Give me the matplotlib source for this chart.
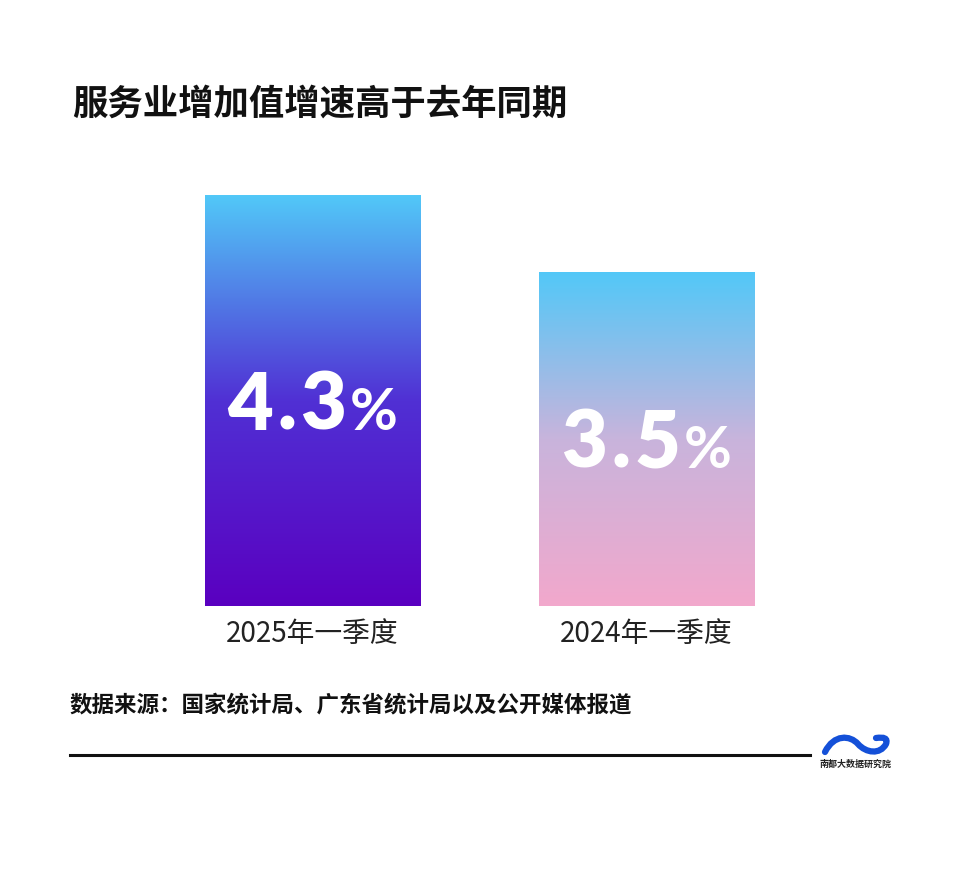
import numpy as np
import matplotlib
matplotlib.use("Agg")
import matplotlib.pyplot as plt
from matplotlib.colors import LinearSegmentedColormap
from matplotlib.path import Path
from matplotlib.patches import PathPatch

plt.rcParams['font.family'] = ['Noto Sans CJK SC', 'DejaVu Sans']

# 数据
categories = ['2025年一季度', '2024年一季度']
values = [4.3, 3.5]
title = '服务业增加值增速高于去年同期'
source = '数据来源：国家统计局、广东省统计局以及公开媒体报道'

grad_colors = [
    ['#5a00c0', '#5030d4', '#52c8f8'],   # 底 -> 顶
    ['#f2a8cc', '#c8b4dc', '#52c8f8'],
]

W, H = 960, 876
fig = plt.figure(figsize=(W / 100, H / 100), dpi=100)
fig.patch.set_facecolor('white')

# 坐标轴：底部 606px，每单位约 95.5px
ax_left, ax_right = 145.5, 813.5
ax_bottom = 606
unit = 95.5
ymax = 5
ax = fig.add_axes([ax_left / W, 1 - ax_bottom / H,
                   (ax_right - ax_left) / W, ymax * unit / H])
ax.set_xlim(-0.5, 1.5)
ax.set_ylim(0, ymax)
ax.axis('off')

x = np.arange(len(categories))
bars = ax.bar(x, values, width=0.644, color='none', edgecolor='none')

grad = np.linspace(0, 1, 256).reshape(-1, 1)
for b, cols in zip(bars, grad_colors):
    cmap = LinearSegmentedColormap.from_list('g', cols)
    x0, y0 = b.get_x(), b.get_y()
    w, h = b.get_width(), b.get_height()
    im = ax.imshow(grad, cmap=cmap, aspect='auto', origin='lower',
                   extent=[x0, x0 + w, y0, y0 + h], zorder=2)
    im.set_clip_path(b)

ax.set_xlim(-0.5, 1.5)
ax.set_ylim(0, ymax)

# 数值标签：逐字排版，字间略宽，% 较小
num_font = ['Lato', 'DejaVu Sans']
gap = 4
label_txts = []
for xi, v in zip(x, values):
    pieces = []
    for ch in f'{v:.1f}':
        pieces.append(ax.text(0, 0, ch, color='white', fontsize=57,
                              fontweight='heavy', ha='left', va='baseline',
                              family=num_font, zorder=3))
    pieces.append(ax.text(0, 0, '%', color='white', fontsize=42,
                          fontweight='bold', ha='left', va='baseline',
                          family=num_font, zorder=3))
    label_txts.append(pieces)

fig.canvas.draw()
r = fig.canvas.get_renderer()
inv = ax.transData.inverted()
for pieces, xi, v in zip(label_txts, x, values):
    widths = [p.get_window_extent(r).width for p in pieces]
    total = sum(widths) + gap * (len(pieces) - 1)
    cx, cy = ax.transData.transform((xi, v / 2))
    base = cy - 29   # 数字高约 58px，居中
    left = cx - total / 2
    for p, wd in zip(pieces, widths):
        p.set_position(inv.transform((left, base)))
        left += wd + gap

# 类别标签
for xi, c in zip(x, categories):
    ax.text(xi, -0.29, c, fontsize=20, color='#222222', ha='center',
            va='center', fontweight='light')

# 标题与来源
fig.text(72 / W, 1 - 104 / H, title, fontsize=25.5, fontweight='heavy',
         color='#111111', ha='left', va='center', style='italic')
fig.text(70 / W, 1 - 705 / H, source, fontsize=16.2, fontweight='bold',
         color='#111111', ha='left', va='center')

# 底部横线
fig.add_artist(plt.Line2D([70 / W, 810 / W], [1 - 755 / H, 1 - 755 / H],
                          color='#111111', lw=2.2))

# 标志
verts = [(825, 752), (834, 734), (850, 735), (858, 744),
         (866, 753), (880, 755), (886, 744),
         (888, 738), (884, 737), (876, 738)]
codes = [Path.MOVETO, Path.CURVE4, Path.CURVE4, Path.CURVE4,
         Path.CURVE4, Path.CURVE4, Path.CURVE4,
         Path.CURVE4, Path.CURVE4, Path.CURVE4]
logo = Path([(vx / W, 1 - vy / H) for vx, vy in verts], codes)
fig.add_artist(PathPatch(logo, transform=fig.transFigure, facecolor='none',
                         edgecolor='#1450d8', lw=4.5, capstyle='round'))
fig.text(855 / W, 1 - 764 / H, '南都大数据研究院', fontsize=6.5,
         fontweight='bold', color='#222222', ha='center', va='center')

fig.savefig('out.png', dpi=100, facecolor='white')
